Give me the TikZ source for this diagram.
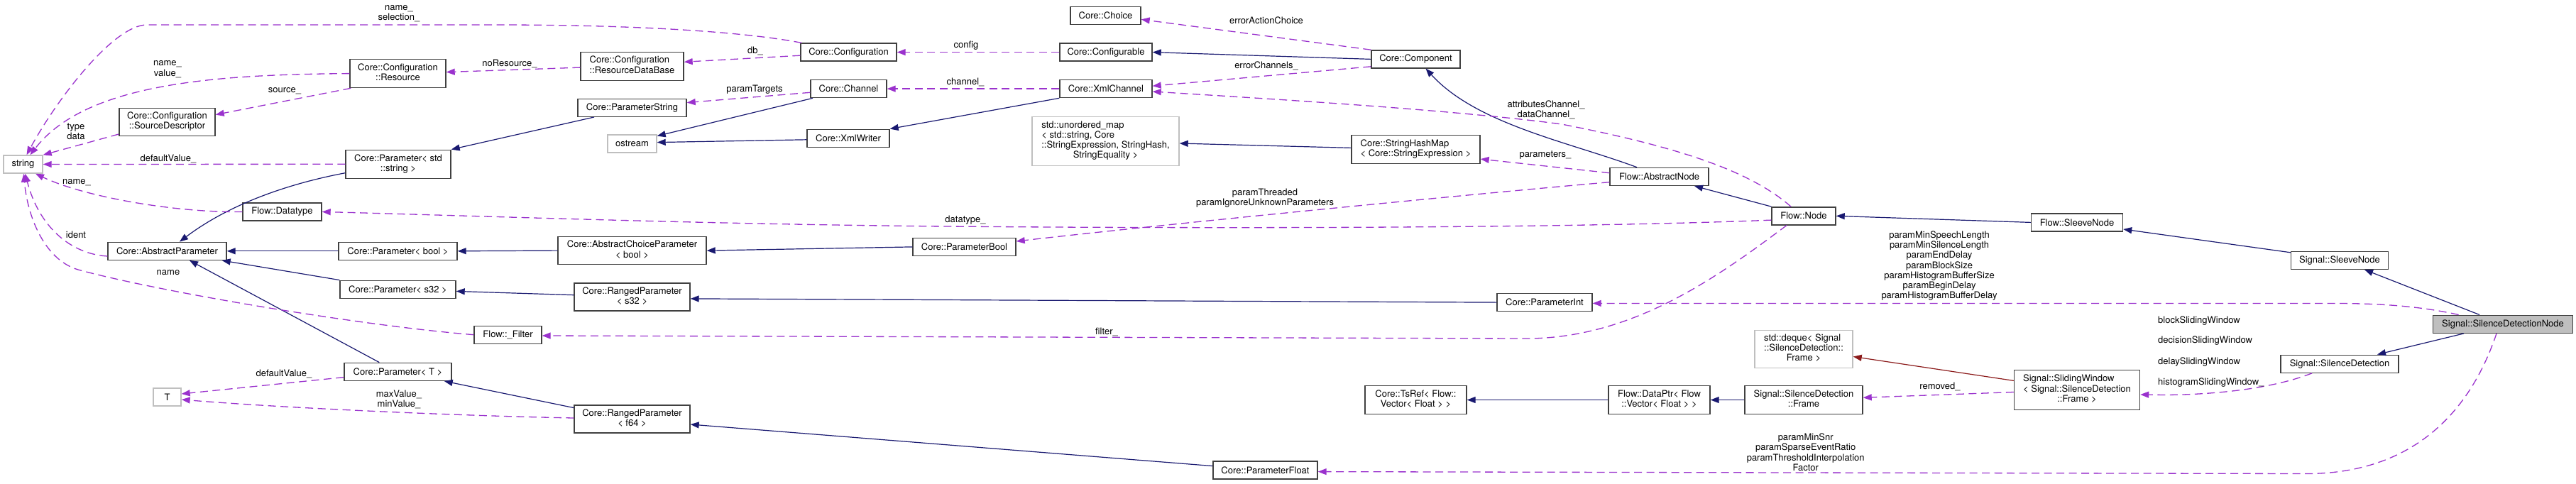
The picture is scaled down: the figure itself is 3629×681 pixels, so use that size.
\documentclass[tikz,border=0pt]{standalone}
\usepackage{fontspec}
\setmainfont{TeX Gyre Heros}
\usetikzlibrary{arrows.meta}
\definecolor{navy}{HTML}{191970}
\definecolor{orchid}{HTML}{9A32CD}
\definecolor{fbrick}{HTML}{8B1A1A}
\definecolor{lgray}{HTML}{BFBFBF}
\newcommand\nfont{\fontsize{13}{14.2}\selectfont}
\newcommand\mlines[2]{\begin{tabular}{@{}l@{}}#1\\\multicolumn{1}{@{}c@{}}{#2}\end{tabular}}
\tikzset{
  cls/.style={draw=black!75, line width=1.4pt, fill=white, inner sep=0pt, minimum height=25pt, font=\nfont, text=black},
  extcls/.style={cls, draw=lgray},
  inh/.style={draw=navy, line width=1.2pt, -{Triangle[length=12pt,width=9pt]}},
  priv/.style={inh, draw=fbrick},
  usedby/.style={draw=orchid, line width=1.3pt, dash pattern=on 11pt off 6.5pt, -{Triangle[length=12pt,width=9pt]}},
  lbl/.style={inner sep=0pt, align=center, font=\nfont},
}
\begin{document}
\begin{tikzpicture}[x=1pt,y=-1pt]
\useasboundingbox (0,0) rectangle (3629,681);
% nodes
\node[extcls, minimum width=55pt] (str) at (32.5,231.5) {string};
\node[cls, minimum width=135pt, minimum height=39pt] (src) at (235.5,172) {\mlines{Core::Configuration}{::SourceDescriptor}};
\node[cls, minimum width=135pt, minimum height=40pt] (res) at (560.5,103.6) {\mlines{Core::Configuration}{::Resource}};
\node[cls, minimum width=148pt, minimum height=40pt] (pstr) at (561,231.3) {\mlines{Core::Parameter< std}{::string >}};
\node[cls, minimum width=111pt] (dtype) at (397.5,298.4) {Flow::Datatype};
\node[cls, minimum width=167pt] (absp) at (235.5,353.8) {Core::AbstractParameter};
\node[cls, minimum width=167pt] (pbool) at (560.5,353.8) {Core::Parameter< bool >};
\node[cls, minimum width=163pt] (ps32) at (560.5,407.8) {Core::Parameter< s32 >};
\node[cls, minimum width=151pt] (pT) at (560.5,523.8) {Core::Parameter< T >};
\node[extcls, minimum width=39pt] (T) at (235.5,559.6) {T};
\node[cls, minimum width=95pt] (filt) at (715.5,471.7) {Flow::\_Filter};
\node[cls, minimum width=145pt, minimum height=40pt] (resdb) at (890.5,93.2) {\mlines{Core::Configuration}{::ResourceDataBase}};
\node[cls, minimum width=153pt] (parstr) at (890.5,151.8) {Core::ParameterString};
\node[extcls, minimum width=69pt] (ostr) at (890.5,202.6) {ostream};
\node[cls, minimum width=209pt, minimum height=39pt] (achoice) at (890.5,353.1) {\mlines{Core::AbstractChoiceParameter}{< bool >}};
\node[cls, minimum width=163pt, minimum height=39pt] (rs32) at (890.5,418.3) {\mlines{Core::RangedParameter}{< s32 >}};
\node[cls, minimum width=163pt, minimum height=39pt] (rf64) at (890.5,590.3) {\mlines{Core::RangedParameter}{< f64 >}};
\node[cls, minimum width=135pt] (cfg) at (1195.5,73.6) {Core::Configuration};
\node[cls, minimum width=107pt] (chan) at (1195.5,125.1) {Core::Channel};
\node[cls, minimum width=116pt] (xmlw) at (1195,194.8) {Core::XmlWriter};
\node[cls, minimum width=145pt] (parbool) at (1358.5,347.9) {Core::ParameterBool};
\node[extcls, minimum width=207pt, minimum height=69pt] (umap) at (1557.5,198.7) {\mlines{std::unordered\_map\\< std::string, Core\\::StringExpression, StringHash,}{StringEquality >}};
\node[cls, minimum width=130pt] (cfgable) at (1558,73.6) {Core::Configurable};
\node[cls, minimum width=130pt] (xmlch) at (1558,125.1) {Core::XmlChannel};
\node[cls, minimum width=99pt] (choice) at (1557.5,22.2) {Core::Choice};
\node[cls, minimum width=125pt] (comp) at (1994.5,83.4) {Core::Component};
\node[cls, minimum width=181pt, minimum height=40pt] (shm) at (1994.5,210.4) {\mlines{Core::StringHashMap}{< Core::StringExpression >}};
\node[cls, minimum width=143pt, minimum height=40pt] (tsref) at (1994.5,563.5) {\mlines{Core::TsRef< Flow::}{Vector< Float > >}};
\node[cls, minimum width=147pt] (pfloat) at (1782.5,662.6) {Core::ParameterFloat};
\node[cls, minimum width=139pt] (absn) at (2337.5,248.9) {Flow::AbstractNode};
\node[cls, minimum width=90pt] (fnode) at (2541,304.3) {Flow::Node};
\node[cls, minimum width=134pt] (pint) at (2176,426.1) {Core::ParameterInt};
\node[cls, minimum width=143pt, minimum height=40pt] (dptr) at (2337.5,563.5) {\mlines{Flow::DataPtr< Flow}{::Vector< Float > >}};
\node[extcls, minimum width=138pt, minimum height=53pt] (deque) at (2541,491.9) {\mlines{std::deque< Signal\\::SilenceDetection::}{Frame >}};
\node[cls, minimum width=166pt, minimum height=40pt] (frame) at (2541,563.5) {\mlines{Signal::SilenceDetection}{::Frame}};
\node[cls, minimum width=129pt] (fsleeve) at (2926,313.4) {Flow::SleeveNode};
\node[cls, minimum width=177pt, minimum height=56pt] (sliding) at (2926,549.2) {\mlines{Signal::SlidingWindow\\< Signal::SilenceDetection}{::Frame >}};
\node[cls, minimum width=137pt] (ssleeve) at (3296,366.8) {Signal::SleeveNode};
\node[cls, fill=lgray, minimum width=197pt] (sdn) at (3526,456.7) {Signal::SilenceDetectionNode};
\node[cls, minimum width=166pt] (sd) at (3296,512.7) {Signal::SilenceDetection};
% inheritance
\draw[inh] (comp.west) -- (cfgable.east);
\draw[inh] ([xshift=-31.5pt]absn.north) .. controls (2210,200) and (2080,175) .. ([xshift=14pt]comp.south);
\draw[inh] (fnode.north west) -- ([xshift=49.5pt]absn.south);
\draw[inh] (fsleeve.west) -- (fnode.east);
\draw[inh] ([yshift=11pt]ssleeve.west) -- ([yshift=-9.6pt]fsleeve.east);
\draw[inh] ([xshift=-33pt]sdn.north) -- ([xshift=35pt]ssleeve.south);
\draw[inh] ([xshift=-55pt]sdn.south) -- ([xshift=53pt]sd.north);
\draw[inh] ([xshift=-50.5pt]chan.south) -- ([yshift=11pt]ostr.east);
\draw[inh] ([yshift=-2pt]xmlw.west) -- ([yshift=2pt]ostr.east);
\draw[inh] (xmlch.south west) -- (xmlw.north east);
\draw[inh] ([xshift=-53.5pt]parstr.south) -- (pstr.north east);
\draw[inh] ([yshift=-12.4pt]pstr.west) .. controls (400,260) and (320,290) .. ([xshift=17.5pt]absp.north);
\draw[inh] (pbool.west) -- (absp.east);
\draw[inh] (ps32.north west) -- ([xshift=-7pt]absp.south east);
\draw[inh] ([xshift=50pt]pT.north west) -- ([xshift=31.5pt]absp.south);
\draw[inh] (achoice.west) -- (pbool.east);
\draw[inh] (parbool.west) -- (achoice.east);
\draw[inh] ([yshift=2.6pt]rs32.west) -- ([yshift=-2.6pt]ps32.east);
\draw[inh] (pint.west) -- ([yshift=-2.6pt]rs32.east);
\draw[inh] ([yshift=15.7pt]rf64.west) -- ([xshift=-11pt]pT.south east);
\draw[inh] ([yshift=6pt]pfloat.west) -- ([yshift=-7.7pt]rf64.east);
\draw[inh] ([yshift=2pt]shm.west) -- ([yshift=-3.3pt]umap.east);
\draw[inh] (dptr.west) -- (tsref.east);
\draw[inh] (frame.west) -- (dptr.east);
\draw[priv] ([yshift=12.8pt]sliding.west) -- ([yshift=-10.6pt]deque.east);
% usage
\draw[usedby] ([xshift=2pt]cfg.north west) .. controls (1050,45) and (900,35) .. (700,35) -- (207,35) .. controls (160,35) and (80,140) .. ([xshift=5pt]str.north);
\draw[usedby] (res.west) .. controls (300,105) and (120,118) .. ([xshift=10pt]str.north);
\draw[usedby] ([yshift=-17pt]src.west) -- (str.north east);
\draw[usedby] (pstr.west) -- (str.east);
\draw[usedby] (dtype.west) .. controls (250,300) and (120,278) .. ([xshift=17.5pt]str.south);
\draw[usedby] ([yshift=-7.2pt]absp.west) .. controls (100,358) and (55,320) .. ([xshift=3pt]str.south);
\draw[usedby] (filt.west) .. controls (500,458) and (220,410) .. (110,380) .. controls (60,365) and (38,300) .. ([xshift=1pt]str.south);
\draw[usedby] ([xshift=2pt]res.south west) -- ([yshift=10.4pt]src.east);
\draw[usedby] ([yshift=-1.9pt]resdb.west) -- ([yshift=2pt]res.east);
\draw[usedby] ([yshift=-4.6pt]cfg.west) -- ([yshift=5.9pt]resdb.east);
\draw[usedby] (cfgable.west) -- (cfg.east);
\draw[usedby] (xmlch.west) -- (chan.east);
\draw[usedby] ([yshift=-5.2pt]chan.west) -- ([yshift=7.2pt]parstr.east);
\draw[usedby] (comp.north west) -- ([yshift=-5.2pt]choice.east);
\draw[usedby] ([yshift=-10.4pt]comp.west) -- ([yshift=3.9pt]xmlch.east);
\draw[usedby] ([xshift=-18pt]fnode.north) .. controls (2470,245) and (2380,210) .. (2200,175) .. controls (2050,155) and (1800,140) .. ([yshift=-3.9pt]xmlch.east);
\draw[usedby] ([yshift=5.2pt]absn.west) -- ([yshift=-13.7pt]shm.east);
\draw[usedby] ([yshift=-7.8pt]absn.west) .. controls (2100,271) and (1650,315) .. ([yshift=7.9pt]parbool.east);
\draw[usedby] ([yshift=-5.8pt]fnode.west) .. controls (2200,322) and (1700,322) .. (1333,319) .. controls (1000,316) and (700,305) .. (dtype.east);
\draw[usedby] ([xshift=-24pt]fnode.south) .. controls (2420,390) and (2300,477) .. (2150,477) -- ([yshift=-1.3pt]filt.east);
\draw[usedby] ([xshift=-62.4pt]sdn.north) .. controls (3420,434) and (3370,427.5) .. (3290,427.5) -- ([yshift=-1.3pt]pint.east);
\draw[usedby] ([xshift=-9pt]sdn.south) .. controls (3480,580) and (3400,667) .. (3250,667.5) -- ([yshift=-2pt]pfloat.east);
\draw[usedby] ([xshift=-39pt]sd.south) .. controls (3200,548) and (3120,556) .. (3050,556.5) -- ([yshift=-6.8pt]sliding.east);
\draw[usedby] ([yshift=-3.3pt]sliding.west) -- ([yshift=3.2pt]frame.east);
\draw[usedby] ([yshift=-7.8pt]pT.west) -- ([yshift=4.6pt]T.east);
\draw[usedby] ([yshift=1.3pt]rf64.west) .. controls (650,586) and (400,575) .. ([yshift=-3.4pt]T.east);
% labels
\node[lbl] (la) at (562,19) {name\_\\selection\_};
\node[lbl] (lb) at (236,97.7) {name\_\\value\_};
\node[lbl] (lc) at (107,185) {type\\data};
\node[lbl] (ld) at (237,224.1) {defaultValue\_};
\node[lbl] (le) at (108,256.7) {name\_};
\node[lbl] (lf) at (107,331) {ident};
\node[lbl] (lg) at (237,384.4) {name};
\node[lbl] (lh) at (401,127.7) {source\_};
\node[lbl] (li) at (718,89.9) {noResource\_};
\node[lbl] (lj) at (1064,71.7) {db\_};
\node[lbl] (lk) at (1361,63.8) {config};
\node[lbl] (ll) at (1360,116) {channel\_};
\node[lbl] (lm) at (1063,126.4) {paramTargets};
\node[lbl] (ln) at (1784,28.7) {errorActionChoice};
\node[lbl] (lo) at (1784,92.5) {errorChannels\_};
\node[lbl] (lp) at (2178,155) {attributesChannel\_\\dataChannel\_};
\node[lbl] (lq) at (2177,218.9) {parameters\_};
\node[lbl] (lr) at (1782,278.8) {paramThreaded\\paramIgnoreUnknownParameters};
\node[lbl] (ls) at (1360,310.1) {datatype\_};
\node[lbl] (lt) at (1559,467.8) {filter\_};
\node[lbl] (lu) at (2732,374.7) {paramMinSpeechLength\\paramMinSilenceLength\\paramEndDelay\\paramBlockSize\\paramHistogramBufferSize\\paramBeginDelay\\paramHistogramBufferDelay};
\node[lbl] (lv) at (2543.7,637.3) {paramMinSnr\\paramSparseEventRatio\\paramThresholdInterpolation\\Factor};
\node[lbl, anchor=west] (lw1) at (3040,452) {blockSlidingWindow};
\node[lbl, anchor=west] (lw2) at (3040,480.4) {decisionSlidingWindow};
\node[lbl, anchor=west] (lw3) at (3040,510.3) {delaySlidingWindow};
\node[lbl, anchor=west] (lw4) at (3040,539.4) {histogramSlidingWindow\_};
\node[lbl] (lx) at (2733,544.7) {removed\_};
\node[lbl] (ly) at (400,526.4) {defaultValue\_};
\node[lbl] (lz) at (562,562.9) {maxValue\_\\minValue\_};
\end{tikzpicture}
\end{document}
